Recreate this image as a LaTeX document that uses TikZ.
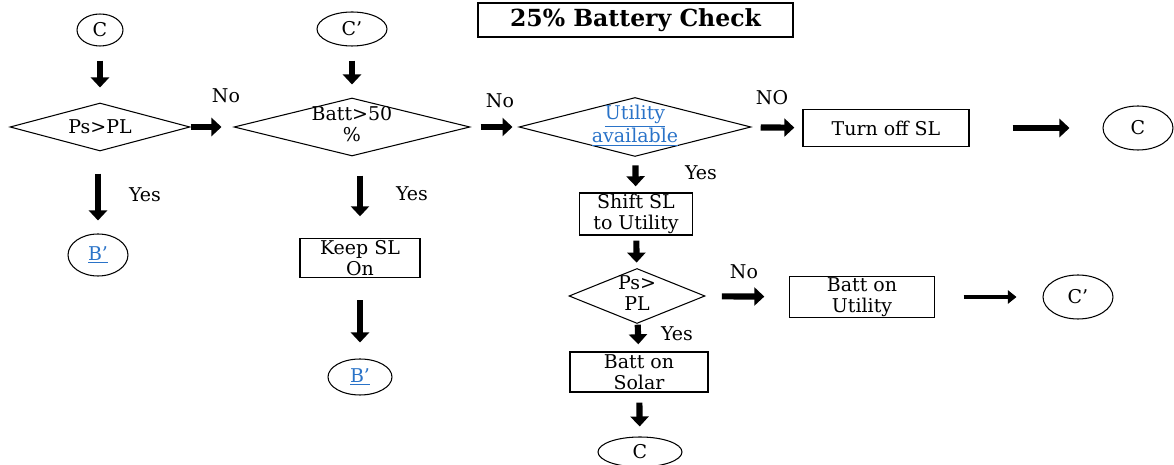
\documentclass[tikz,border=0pt]{standalone}
\usepackage{fontspec}
\setmainfont{DejaVu Serif}
\usepackage{tikz}
\usetikzlibrary{shapes.geometric, arrows.meta, positioning}
\definecolor{linkblue}{HTML}{2A73C8}
\tikzstyle{decision}  = [diamond, draw=black, line width=0.6pt, inner sep=0pt, aspect=3]
\tikzstyle{process}   = [rectangle, draw=black, line width=0.8pt, inner sep=0pt, align=center]
\tikzstyle{connector} = [ellipse, draw=black, line width=0.6pt, inner sep=0pt]
\tikzstyle{flow}      = [line width=3.5pt, -{Triangle[length=0.2cm, width=0.36cm]}]
\tikzstyle{thinflow}  = [line width=2.2pt, -{Triangle[length=0.17cm, width=0.26cm]}]
\tikzstyle{answer}    = [inner sep=0pt]
\newcommand{\twolines}[2]{\raisebox{-2.7pt}[0pt][0pt]{\begin{tabular}{@{}c@{}}#1\\#2\end{tabular}}}
\newcommand{\linktext}[1]{\textcolor{linkblue}{\underline{#1}}}

\begin{document}
\begin{tikzpicture}[x=0.02cm, y=-0.02cm, every node/.style={font=\fontsize{10.8}{12}\selectfont}]
  \useasboundingbox (0,0) rectangle (1174,465);

  \node (title) [process, minimum width=6.3cm, minimum height=0.68cm, font=\fontsize{13.4}{15}\selectfont\bfseries] at (635.5,20) {25\% Battery Check};

  % first column
  \node (c1) [connector, minimum width=0.92cm, minimum height=0.64cm] at (100,30) {C};
  \node (d1) [decision, minimum width=3.6cm, minimum height=0.96cm] at (100,127) {Ps>PL};
  \node (b1) [connector, minimum width=1.2cm, minimum height=0.84cm] at (98,255) {\linktext{B’}};

  % second column
  \node (c2)   [connector, minimum width=1.4cm, minimum height=0.68cm] at (352,29) {C’};
  \node (d2)   [decision, minimum width=4.72cm, minimum height=1.16cm] at (352,127) {\twolines{Batt>50}{\%}};
  \node (keep) [process, minimum width=2.4cm, minimum height=0.78cm] at (360,258) {Keep SL\\On};
  \node (b2)   [connector, minimum width=1.28cm, minimum height=0.72cm] at (360,377) {\linktext{B’}};

  % third column
  \node (d3)    [decision, minimum width=4.64cm, minimum height=1.18cm] at (635,127) {\twolines{\linktext{Utility}}{\linktext{available}}};
  \node (off)   [process, minimum width=3.32cm, minimum height=0.74cm] at (886,128) {Turn off SL};
  \node (c3)    [connector, minimum width=1.4cm, minimum height=0.88cm] at (1138,128) {C};
  \node (shift) [process, minimum width=2.26cm, minimum height=0.84cm] at (636,214) {Shift SL\\to Utility};
  \node (d4)    [decision, minimum width=2.72cm, minimum height=1.1cm] at (637,296) {\twolines{Ps>}{PL}};
  \node (util)  [process, minimum width=2.9cm, minimum height=0.82cm] at (862,297) {Batt on\\Utility};
  \node (c4)    [connector, minimum width=1.4cm, minimum height=0.88cm] at (1078,297) {C’};
  \node (solar) [process, minimum width=2.76cm, minimum height=0.8cm] at (639,372) {Batt on\\Solar};
  \node (c5)    [connector, minimum width=1.68cm, minimum height=0.6cm] at (640,452) {C};

  % answers
  \node (no1)  [answer] at (226,96)  {No};
  \node (yes1) [answer] at (145,195) {Yes};
  \node (yes2) [answer] at (412,194) {Yes};
  \node (no2)  [answer] at (500,101) {No};
  \node (no3)  [answer] at (772,98)  {NO};
  \node (yes3) [answer] at (701,173) {Yes};
  \node (no4)  [answer] at (744,272) {No};
  \node (yes4) [answer] at (677,334) {Yes};

  % arrows
  \draw[flow, shorten <=0.28cm, shorten >=0.3cm]  (c1) -- (d1);
  \draw[flow, shorten <=0.44cm, shorten >=0.26cm] (d1.south -| b1) -- (b1);
  \draw[flow, shorten >=0.24cm]                   (d1) -- (d2);
  \draw[flow, shorten <=0.28cm, shorten >=0.26cm] (c2) -- (d2);
  \draw[flow, shorten <=0.38cm, shorten >=0.43cm] (d2.south -| keep) -- (keep);
  \draw[flow, shorten <=0.44cm, shorten >=0.32cm] (keep) -- (b2);
  \draw[flow, shorten <=0.2cm, shorten >=0.12cm]  (d2) -- (d3);
  \draw[flow, shorten <=0.22cm, shorten >=0.16cm] (d3) -- (off);
  \draw[flow, shorten <=0.86cm, shorten >=0.66cm] (off) -- (c3);
  \draw[flow, shorten <=0.17cm, shorten >=0.12cm] (d3) -- (shift);
  \draw[flow, shorten <=0.1cm, shorten >=0.11cm]  (shift) -- (d4);
  \draw[flow, shorten <=0.02cm, shorten >=0.14cm] (d4) -- (solar);
  \draw[flow, shorten <=0.2cm, shorten >=0.2cm]   (solar) -- (c5);
  \draw[flow, shorten <=0.34cm, shorten >=0.49cm] (d4) -- (util);
  \draw[thinflow, shorten <=0.57cm, shorten >=0.52cm] (util) -- (c4);
\end{tikzpicture}
\end{document}
